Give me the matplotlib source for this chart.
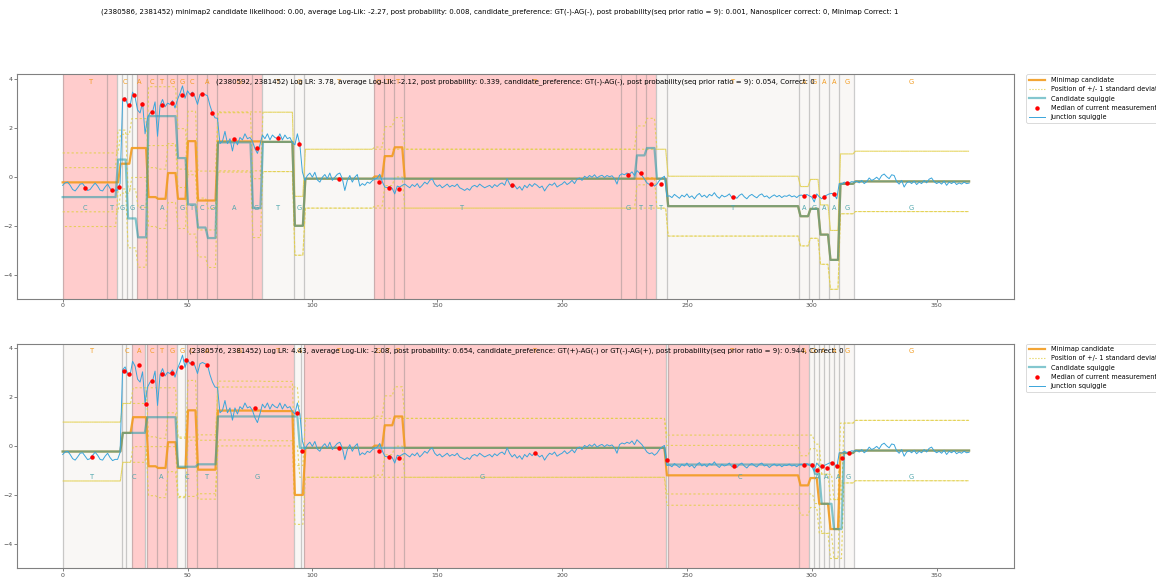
import numpy as np
import matplotlib.pyplot as plt

# junction squiggle (one value per sample), shared by both panels
squiggle = [
    -0.35, -0.25, -0.22, -0.35, -0.52, -0.58, -0.45, -0.30, -0.28, -0.42,
    -0.56, -0.52, -0.38, -0.26, -0.38, -0.55, -0.58, -0.42, -0.30, -0.48,
    -0.60, -0.55, -0.55, -0.27, 3.10, 3.22, 2.95, 2.88, 3.45, 3.25,
    2.72, 2.60, 3.02, 1.75, 2.40, 2.60, 2.65, 3.05, 1.65, 2.90,
    3.15, 2.85, 3.00, 2.95, 3.10, 2.80, 3.15, 3.40, 3.70, 3.20,
    3.50, 3.35, 3.45, 3.25, 2.95, 3.35, 3.40, 3.35, 3.30, 2.90,
    2.60, 2.40, 2.38, 1.35, 1.45, 1.85, 1.35, 1.55, 1.05, 1.55,
    1.30, 1.60, 1.50, 1.75, 1.55, 1.60, 1.45, 1.15, 0.95, 1.30,
    1.70, 1.55, 1.75, 1.50, 1.70, 1.60, 1.55, 1.75, 1.50, 1.70,
    1.55, 1.60, 1.40, 1.30, 1.75, 1.30, 0.20, -0.15, 0.05, 0.15,
    -0.02, 0.18, -0.13, -0.22, -0.02, 0.09, -0.08, 0.15, -0.15, -0.02,
    0.10, 0.15, -0.08, -0.56, -0.15, 0.05, -0.22, -0.02, 0.09, -0.38,
    -0.28, -0.35, -0.22, -0.27, -0.16, -0.10, -0.05, 0.10, -0.20, -0.42,
    -0.45, -0.40, -0.48, -0.70, -0.38, -0.42, -0.35, -0.30, -0.38, -0.45,
    -0.32, -0.40, -0.28, -0.45, -0.35, -0.22, -0.30, -0.15, -0.08, -0.30,
    -0.40, -0.33, -0.45, -0.38, -0.30, -0.42, -0.35, -0.40, -0.30, -0.45,
    -0.50, -0.56, -0.48, -0.55, -0.40, -0.35, -0.42, -0.30, -0.38, -0.45,
    -0.40, -0.35, -0.45, -0.32, -0.40, -0.30, -0.25, -0.35, -0.08, -0.30,
    -0.45, -0.35, -0.50, -0.40, -0.55, -0.35, -0.45, -0.30, -0.40, -0.28,
    -0.35, -0.45, -0.38, -0.58, -0.42, -0.30, -0.35, -0.25, -0.42, -0.35,
    -0.30, -0.20, -0.32, -0.25, -0.15, -0.28, -0.10, -0.05, -0.15, 0.02,
    -0.05, 0.05, -0.02, 0.08, -0.05, 0.02, 0.06, -0.03, 0.05, 0.00,
    0.04, -0.08, -0.30, 0.05, 0.12, 0.08, 0.15, 0.10, 0.20, 0.05,
    0.25, 0.15, 0.05, -0.10, -0.25, -0.32, -0.28, -0.38, -0.30, -0.15,
    -0.05, 0.02, -0.80, -0.78, -0.85, -0.72, -0.80, -0.88, -0.75, -0.82,
    -0.70, -0.85, -0.78, -0.90, -0.76, -0.68, -0.82, -0.75, -0.85, -0.72,
    -0.78, -0.65, -0.80, -0.88, -0.75, -0.82, -0.78, -0.70, -0.85, -0.80,
    -0.88, -0.76, -0.70, -0.82, -0.90, -0.78, -0.72, -0.80, -0.86, -0.75,
    -0.70, -0.82, -0.78, -0.88, -0.80, -0.74, -0.82, -0.76, -0.85, -0.78,
    -0.80, -0.74, -0.82, -0.78, -0.85, -0.76, -0.75, -0.80, -0.72, -0.78,
    -0.83, -1.03, -0.70, -0.82, -0.90, -0.80, -0.75, -0.70, -0.68, -0.72,
    -0.90, -0.28, -0.30, -0.22, -0.27, -0.25, -0.20, -0.22, -0.18, -0.25,
    -0.15, -0.28, -0.20, -0.05, -0.15, -0.10, -0.02, -0.12, 0.05, 0.11,
    0.00, -0.08, 0.08, 0.05, -0.20, -0.30, -0.15, -0.42, -0.25, -0.20,
    -0.28, -0.18, -0.32, -0.22, -0.28, -0.15, -0.25, -0.10, -0.05, -0.20,
    -0.28, -0.22, -0.30, -0.18, -0.35, -0.22, -0.28, -0.20, -0.32, -0.25,
    -0.30, -0.22, -0.28, -0.26,
]

# minimap candidate: bases, expected level, std
mm_bases = "TCACTGGCAGTGTGTTTTAGAAGG"
mm_levels = [-0.23, 0.53, 1.17, -0.83, -0.90, 0.15, -0.90, 1.45, -0.97, 1.44, 1.42, -2.00,
             -0.08, 0.01, 0.84, 1.20, -0.08, -1.20, -1.61, -1.31, -2.36, -3.39, -0.29, -0.19]
mm_sd = [1.20, 1.20, 1.20, 1.20, 1.21, 1.20, 1.21, 1.22, 1.20, 1.20, 1.21, 1.20,
         1.20, 1.20, 1.20, 1.21, 1.20, 1.22, 1.21, 1.20, 1.21, 1.20, 1.22, 1.23]
mm_edges_top = [0, 22.7, 27.2, 33.9, 37.7, 41.7, 45.7, 49.7, 53.7, 61.7, 79.7, 92.5, 96.7,
                124.5, 128.5, 132.5, 136.5, 242, 295, 299, 303, 307, 311, 317, 363]
mm_edges_bot = [0, 23.6, 27.7, 33.9, 37.7, 41.7, 45.7, 49.7, 53.7, 61.7, 79.7, 92.5, 96.7,
                124.5, 128.5, 132.5, 136.5, 241.5, 295, 299, 302.5, 307, 311, 317, 363]

# candidate squiggle, top panel
top_bases = "CTGGCAGTCGAGTGTGTTTTAGAAGG"
top_levels = [-0.83, -0.83, 0.70, -1.70, -2.47, 2.47, 0.76, -1.13, -2.07, -2.50, 1.40, -1.28, 1.42,
              -2.00, -0.08, -0.08, 0.87, 1.17, -0.08, -1.20, -1.61, -1.31, -2.36, -3.39, -0.29, -0.19]
top_sd = [1.20, 1.20, 1.20, 1.20, 1.22, 1.20, 1.20, 1.21, 1.20, 1.20, 1.21, 1.20, 1.21,
          1.20, 1.20, 1.20, 1.20, 1.21, 1.20, 1.22, 1.21, 1.20, 1.21, 1.20, 1.22, 1.23]
top_edges = [0, 17.7, 21.7, 25.7, 29.7, 33.9, 45.7, 49.7, 53.7, 57.7, 61.7, 75.7, 79.7, 92.5,
             96.7, 223.5, 229.5, 233.5, 237.5, 242, 295, 299, 303, 307, 311, 317, 363]

# candidate squiggle, bottom panel
bot_bases = "TCACTGGCAAAGG"
bot_levels = [-0.23, 0.53, 1.17, -0.85, -0.75, 1.20, -0.08, -0.76, -1.14, -2.36, -3.39, -0.29, -0.19]
bot_sd = [1.20, 1.20, 1.20, 1.21, 1.20, 1.20, 1.20, 1.20, 1.21, 1.20, 1.20, 1.22, 1.23]
bot_edges = [0, 23.6, 33.4, 45.7, 53.7, 61.7, 94.5, 241.5, 300.8, 303.5, 308.4, 312.4, 317, 363]

# alignment segments (1 = mismatch) and median current per segment
top_seg_edges = [0, 17.7, 21.7, 23.7, 25.7, 27.7, 29.7, 33.9, 37.7, 41.7, 45.7, 49.7, 53.7, 57.7,
                 61.7, 75.7, 79.7, 92.5, 96.7, 124.5, 128.5, 132.5, 136.5, 223.5, 229.5, 233.5,
                 237.5, 242, 295, 299, 303, 307, 311, 317]
top_seg_mis = [1, 1, 0, 0, 0, 0, 1, 1, 1, 1, 1, 1, 1, 1, 1, 1, 0, 0, 0, 1, 1, 1, 1, 1, 1, 1,
               0, 0, 0, 0, 0, 0, 0]
top_medians = [-0.45, -0.53, -0.41, 3.16, 2.91, 3.33, 2.95, 2.63, 2.93, 2.99, 3.35, 3.36, 3.37,
               2.60, 1.55, 1.17, 1.59, 1.32, -0.08, -0.20, -0.45, -0.49, -0.33, 0.08, 0.15,
               -0.31, -0.31, -0.83, -0.78, -0.79, -0.83, -0.71, -0.27]

bot_seg_edges = [0, 23.6, 25.2, 27.7, 33.1, 33.9, 37.7, 41.7, 45.7, 48.9, 49.7, 53.7, 61.7, 92.5,
                 95.3, 96.7, 124.5, 128.5, 132.5, 136.5, 241.5, 242.5, 295, 299, 301, 303, 305,
                 307, 309, 311, 313, 317]
bot_seg_mis = [0, 0, 0, 1, 0, 1, 1, 1, 0, 0, 1, 1, 1, 0, 0, 1, 1, 1, 1, 1, 0, 1, 1,
               0, 0, 0, 0, 0, 0, 0, 0]
bot_medians = [-0.46, 3.05, 2.94, 3.31, 1.71, 2.63, 2.93, 2.99, 3.20, 3.51, 3.36, 3.29, 1.54,
               1.36, -0.19, -0.08, -0.20, -0.46, -0.49, -0.31, -0.59, -0.83, -0.76, -0.76,
               -1.00, -0.80, -0.89, -0.71, -0.80, -0.49, -0.27]

suptitle = ("(2380586, 2381452) minimap2 candidate likelihood: 0.00, average Log-Lik: -2.27, "
            "post probability: 0.008, candidate_preference: GT(-)-AG(-), post probability(seq prior "
            "ratio = 9): 0.001, Nanosplicer correct: 0, Minimap Correct: 1")
top_title = ("(2380592, 2381452) Log LR: 3.78, average Log-Lik: -2.12, post probability: 0.339, "
             "candidate_preference: GT(-)-AG(-), post probability(seq prior ratio = 9): 0.054, Correct: 0")
bot_title = ("(2380576, 2381452) Log LR: 4.43, average Log-Lik: -2.08, post probability: 0.654, "
             "candidate_preference: GT(+)-AG(-) or GT(-)-AG(+), post probability(seq prior ratio = 9): "
             "0.944, Correct: 0")

ORANGE = '#f29b1f'
TEAL = '#1f9aa8'
SDCOL = '#e2cf48'
SIGCOL = '#3aa5da'


def steps(edges, values):
    xs, ys = [], []
    for s, e, v in zip(edges[:-1], edges[1:], values):
        xs += [s + 0.5, e - 0.5]
        ys += [v, v]
    xs[0], xs[-1] = edges[0], edges[-1]
    return xs, ys


def centers(edges):
    e = np.asarray(edges, dtype=float)
    return (e[:-1] + e[1:]) / 2


def panel(ax, mm_edges, c_edges, c_levels, c_sd, c_bases, seg_edges, seg_mis, medians, title):
    for s, e, m in zip(seg_edges[:-1], seg_edges[1:], seg_mis):
        ax.axvspan(s, e, color='#ffcccc' if m else '#f9f7f5', lw=0, zorder=0)
    for b in seg_edges:
        ax.axvline(b, color='grey', alpha=0.4, lw=0.9, zorder=1)

    mm_lo = [v - s for v, s in zip(mm_levels, mm_sd)]
    mm_hi = [v + s for v, s in zip(mm_levels, mm_sd)]
    c_lo = [v - s for v, s in zip(c_levels, c_sd)]
    c_hi = [v + s for v, s in zip(c_levels, c_sd)]
    for vals, edges, off in [(mm_lo, mm_edges, 0), (mm_hi, mm_edges, 0),
                             (c_lo, c_edges, 2), (c_hi, c_edges, 2)]:
        ax.plot(*steps(edges, vals), color=SDCOL, lw=0.8, alpha=0.85,
                linestyle=(off, (2, 2)), zorder=2)

    ax.plot(*steps(mm_edges, mm_levels), color=ORANGE, lw=1.6, alpha=0.9, zorder=3,
            label='Minimap candidate')
    ax.plot([], [], color=SDCOL, lw=0.8, linestyle=':', label='Position of +/- 1 standard deviation')
    ax.plot(*steps(c_edges, c_levels), color=TEAL, lw=1.6, alpha=0.55, zorder=4,
            label='Candidate squiggle')
    ax.plot(centers(seg_edges), medians, 'o', color='red', ms=2.2, zorder=6,
            label='Median of current measurement')
    ax.plot(np.arange(len(squiggle)), squiggle, color=SIGCOL, lw=0.7, zorder=5,
            label='Junction squiggle')

    for b, x in zip(mm_bases, centers(mm_edges)):
        ax.text(x, 3.85, b, color=ORANGE, fontsize=4.8, ha='center', va='center', zorder=7)
    for b, x in zip(c_bases, centers(c_edges)):
        ax.text(x, -1.27, b, color='#4fa6ad', fontsize=4.8, ha='center', va='center', zorder=7)

    ax.text(0.5, 0.97, title, transform=ax.transAxes, ha='center', va='center',
            fontsize=5, zorder=8)
    ax.set_xlim(-18.15, 381.15)
    ax.set_ylim(-4.98, 4.17)
    ax.set_xticks([0, 50, 100, 150, 200, 250, 300, 350])
    ax.set_yticks([-4, -2, 0, 2, 4])
    ax.tick_params(labelsize=4.5, length=2, width=0.5, pad=1.2, colors='0.3')
    for sp in ax.spines.values():
        sp.set_color('0.5')
        sp.set_linewidth(0.8)
    leg = ax.legend(loc='upper left', bbox_to_anchor=(1.012, 1.0), fontsize=4.7,
                    borderaxespad=0, handlelength=2.5, labelspacing=0.5, framealpha=1)
    leg.get_frame().set_linewidth(0.5)


fig = plt.figure(figsize=(11.56, 5.77), dpi=100)
ax1 = fig.add_axes([0.015, 0.482, 0.8625, 0.389])
ax2 = fig.add_axes([0.015, 0.0155, 0.8625, 0.389])

panel(ax1, mm_edges_top, top_edges, top_levels, top_sd, top_bases,
      top_seg_edges, top_seg_mis, top_medians, top_title)
panel(ax2, mm_edges_bot, bot_edges, bot_levels, bot_sd, bot_bases,
      bot_seg_edges, bot_seg_mis, bot_medians, bot_title)

fig.text(0.432, 0.979, suptitle, ha='center', va='center', fontsize=5)

fig.savefig('out.png', dpi=100)
